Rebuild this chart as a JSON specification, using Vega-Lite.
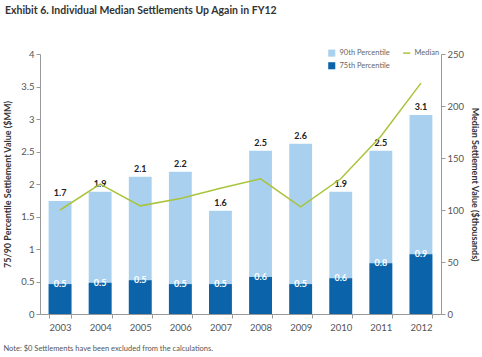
{
  "$schema": "https://vega.github.io/schema/vega-lite/v6.json",
  "width": 401,
  "height": 260,
  "autosize": {"type": "none"},
  "padding": {"left": 40, "top": 54, "right": 41, "bottom": 43},
  "background": "white",
  "config": {
    "font": "Lato",
    "view": {"stroke": null},
    "axis": {"labelColor": "#555", "labelFontSize": 9.5, "domainColor": "#999", "tickColor": "#999", "tickSize": 4, "grid": false, "titleColor": "#333", "labelOverlap": false}
  },
  "title": {
    "text": "Exhibit 6.  Individual Median Settlements Up Again in FY12",
    "anchor": "start",
    "frame": "group",
    "dx": -35,
    "offset": 33,
    "fontSize": 10.5,
    "fontWeight": "bold",
    "color": "#333",
    "font": "Lato"
  },
  "datasets": {
    "p90": [
      {"year": "2003", "series": "90th Percentile", "value": 1.74},
      {"year": "2004", "series": "90th Percentile", "value": 1.88},
      {"year": "2005", "series": "90th Percentile", "value": 2.11},
      {"year": "2006", "series": "90th Percentile", "value": 2.19},
      {"year": "2007", "series": "90th Percentile", "value": 1.59},
      {"year": "2008", "series": "90th Percentile", "value": 2.51},
      {"year": "2009", "series": "90th Percentile", "value": 2.62},
      {"year": "2010", "series": "90th Percentile", "value": 1.88},
      {"year": "2011", "series": "90th Percentile", "value": 2.51},
      {"year": "2012", "series": "90th Percentile", "value": 3.06}
    ],
    "p75": [
      {"year": "2003", "series": "75th Percentile", "value": 0.46},
      {"year": "2004", "series": "75th Percentile", "value": 0.48},
      {"year": "2005", "series": "75th Percentile", "value": 0.52},
      {"year": "2006", "series": "75th Percentile", "value": 0.46},
      {"year": "2007", "series": "75th Percentile", "value": 0.46},
      {"year": "2008", "series": "75th Percentile", "value": 0.57},
      {"year": "2009", "series": "75th Percentile", "value": 0.46},
      {"year": "2010", "series": "75th Percentile", "value": 0.55},
      {"year": "2011", "series": "75th Percentile", "value": 0.78},
      {"year": "2012", "series": "75th Percentile", "value": 0.92}
    ],
    "median": [
      {"year": "2003", "series": "Median", "value": 100},
      {"year": "2004", "series": "Median", "value": 125},
      {"year": "2005", "series": "Median", "value": 104},
      {"year": "2006", "series": "Median", "value": 111},
      {"year": "2007", "series": "Median", "value": 121},
      {"year": "2008", "series": "Median", "value": 130},
      {"year": "2009", "series": "Median", "value": 103},
      {"year": "2010", "series": "Median", "value": 130},
      {"year": "2011", "series": "Median", "value": 171},
      {"year": "2012", "series": "Median", "value": 222}
    ]
  },
  "encoding": {
    "x": {
      "field": "year", "type": "nominal",
      "scale": {"paddingInner": 0.43, "paddingOuter": 0.215},
      "axis": {
        "labelAngle": 0, "tickBand": "extent", "labelPadding": 4,
        "title": "Note:  $0 Settlements have been excluded from the calculations.",
        "titleFontSize": 7.5, "titleFontWeight": "normal", "titleColor": "#555",
        "titleAnchor": "start", "titleAlign": "left", "titleX": -37, "titleY": 34, "titleBaseline": "middle"
      }
    },
    "color": {
      "field": "series", "type": "nominal",
      "scale": {"domain": ["90th Percentile", "Median", "75th Percentile"], "range": ["#A9D1EF", "#A9C43C", "#0B64AA"]},
      "legend": {
        "title": null, "orient": "none", "legendX": 288, "legendY": -5,
        "values": ["90th Percentile", "75th Percentile", "Median"],
        "columns": 2, "columnPadding": 10, "rowPadding": 4,
        "labelFontSize": 7.5, "labelColor": "#666", "symbolSize": 50,
        "encode": {
          "symbols": {
            "update": {
              "shape": {"signal": "datum.label === 'Median' ? 'stroke' : 'square'"},
              "fill": {"signal": "scale('color', datum.value)"},
              "stroke": {"signal": "scale('color', datum.value)"},
              "strokeWidth": {"signal": "datum.label === 'Median' ? 1.5 : 0"},
              "opacity": {"value": 1}
            }
          }
        }
      }
    }
  },
  "layer": [
    {
      "encoding": {
        "y": {"field": "value", "type": "quantitative", "stack": null,
          "scale": {"domain": [0, 4]},
          "axis": {"values": [0, 0.5, 1, 1.5, 2, 2.5, 3, 3.5, 4], "format": "~g", "labelOverlap": false, "title": "75/90 Percentile Settlement Value ($MM)", "titleFontSize": 9, "titleFontWeight": "bold", "titlePadding": 8}}
      },
      "layer": [
        {
          "data": {"name": "p90"},
          "mark": {"type": "bar"}
        },
        {
          "data": {"name": "p75"},
          "mark": {"type": "bar"}
        },
        {
          "data": {"name": "p90"},
          "mark": {"type": "text", "baseline": "bottom", "dy": -3, "fontWeight": "bold", "fontSize": 9, "color": "#222"},
          "encoding": {
            "text": {"field": "value", "type": "quantitative", "format": ".1f"},
            "color": {"value": "#222"}
          }
        },
        {
          "data": {"name": "p75"},
          "mark": {"type": "text", "baseline": "middle", "fontWeight": "bold", "fontSize": 9, "color": "white"},
          "encoding": {
            "y2": {"datum": 0},
            "text": {"field": "value", "type": "quantitative", "format": ".1f"},
            "color": {"value": "white"}
          }
        }
      ]
    },
    {
      "data": {"name": "median"},
      "mark": {"type": "line", "strokeWidth": 1.5},
      "encoding": {
        "y": {"field": "value", "type": "quantitative",
          "scale": {"domain": [0, 250]},
          "axis": {"orient": "right", "values": [0, 50, 100, 150, 200, 250], "title": "Median Settlement Value ($thousands)", "titleFontSize": 9, "titleFontWeight": "bold", "titleAngle": 90, "titlePadding": 6}}
      }
    }
  ],
  "resolve": {"scale": {"y": "independent"}}
}
